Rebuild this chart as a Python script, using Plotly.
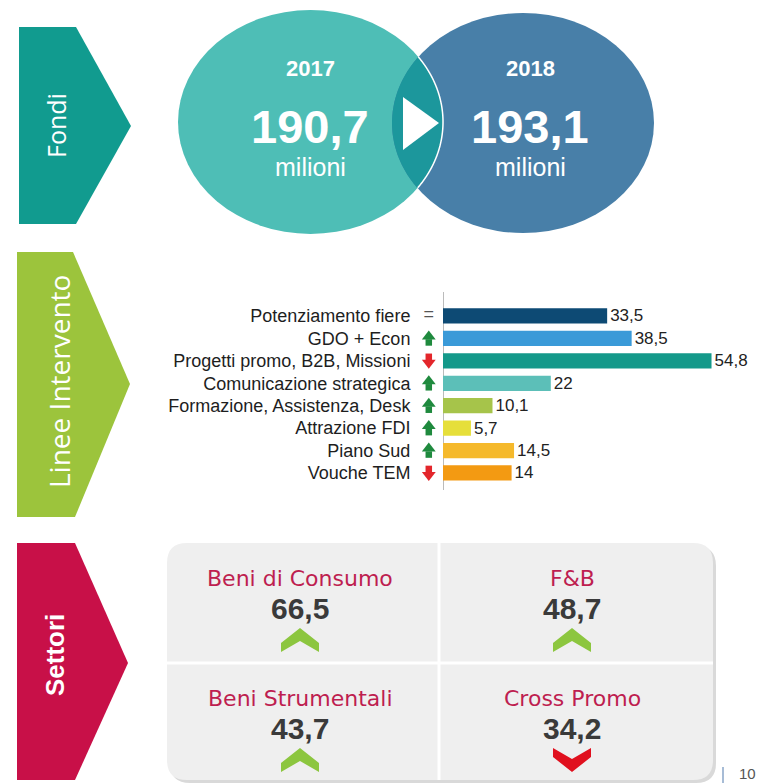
import numpy as np
import plotly.graph_objects as go

W, H = 762, 783

# ---------------- data ----------------
years = ["2017", "2018"]
funds = [190.7, 193.1]
fund_unit = "milioni"

section_titles = ["Fondi", "Linee Intervento", "Settori"]

lines = ["Potenziamento fiere", "GDO + Econ", "Progetti promo, B2B, Missioni",
         "Comunicazione strategica", "Formazione, Assistenza, Desk",
         "Attrazione FDI", "Piano Sud", "Vouche TEM"]
line_values = [33.5, 38.5, 54.8, 22, 10.1, 5.7, 14.5, 14]
line_trend = ["eq", "up", "down", "up", "up", "up", "up", "down"]
bar_colors = ["#0d4a74", "#3a9ad8", "#14998a", "#5cbfb8",
              "#a6c44a", "#e6df3a", "#f5b92c", "#f39a12"]

sectors = ["Beni di Consumo", "F&B", "Beni Strumentali", "Cross Promo"]
sector_values = [66.5, 48.7, 43.7, 34.2]
sector_trend = ["up", "up", "up", "down"]


def it(v):
    return f"{v:g}".replace(".", ",")


def px(x):
    return x / W


def py(y):
    return 1 - y / H


def path(points, close=True):
    s = "M " + " L ".join(f"{px(x):.5f},{py(y):.5f}" for x, y in points)
    return s + (" Z" if close else "")


def note(x, y, text, size, color, family="Arial", angle=0, xanchor="center"):
    return dict(x=px(x), y=py(y), xref="paper", yref="paper", text=text, textangle=angle,
                showarrow=False, xanchor=xanchor, yanchor="middle",
                font=dict(family=family, size=size, color=color))


shapes = []
annotations = []

# ---------------- section banners ----------------
banners = [
    ([(19, 27), (76, 27), (131, 126), (76, 224), (19, 224)], "#119b8f", (56, 126), 25, "Open Sans", False),
    ([(17, 252), (73, 252), (130, 384), (75, 517), (17, 517)], "#9cc43c", (59, 382), 28, "Open Sans", False),
    ([(17, 543), (75, 543), (128, 663), (75, 780), (17, 780)], "#c81048", (55, 655), 26, "Arial", True),
]
for (pts, col, (tx, ty), fs, fam, bold), title in zip(banners, section_titles):
    shapes.append(dict(type="path", xref="paper", yref="paper", path=path(pts),
                       fillcolor=col, line=dict(width=0), layer="below"))
    annotations.append(note(tx, ty, f"<b>{title}</b>" if bold else title, fs, "white", fam, -90))

# ---------------- circles (Fondi) ----------------
A = dict(x0=178, x1=443, y0=10, y1=234, col="#4ebeb6")
B = dict(x0=392, x1=654, y0=13, y1=233, col="#487fa8")
for c in (A, B):
    shapes.append(dict(type="circle", xref="paper", yref="paper",
                       x0=px(c["x0"]), x1=px(c["x1"]), y0=py(c["y1"]), y1=py(c["y0"]),
                       fillcolor=c["col"], line=dict(width=0), layer="below"))


def ell(c):
    return ((c["x0"] + c["x1"]) / 2, (c["y0"] + c["y1"]) / 2,
            (c["x1"] - c["x0"]) / 2, (c["y1"] - c["y0"]) / 2)


cxA, cyA, rxA, ryA = ell(A)
cxB, cyB, rxB, ryB = ell(B)
t = np.linspace(-np.pi, np.pi, 721)
xa, ya = cxA + rxA * np.cos(t), cyA + ryA * np.sin(t)
inB = ((xa - cxB) / rxB) ** 2 + ((ya - cyB) / ryB) ** 2 <= 1
t2 = np.linspace(0, 2 * np.pi, 721)
xb, yb = cxB + rxB * np.cos(t2), cyB + ryB * np.sin(t2)
inA = ((xb - cxA) / rxA) ** 2 + ((yb - cyA) / ryA) ** 2 <= 1
lens = list(zip(xa[inB], ya[inB])) + list(zip(xb[inA], yb[inA]))
shapes.append(dict(type="path", xref="paper", yref="paper", path=path(lens),
                   fillcolor="#1c979c", line=dict(width=0), layer="below"))
shapes.append(dict(type="path", xref="paper", yref="paper",
                   path=path(list(zip(xa[inB], ya[inB])), close=False),
                   line=dict(width=1.5, color="white"), layer="below"))
shapes.append(dict(type="path", xref="paper", yref="paper",
                   path=path([(403, 97), (439, 123), (403, 150)]),
                   fillcolor="white", line=dict(width=0), layer="below"))

for yr, val, cx in zip(years, funds, [310, 530]):
    annotations.append(note(cx, 68, f"<b>{yr}</b>", 22, "white"))
    annotations.append(note(cx, 127, f"<b>{it(val)}</b>", 47, "white"))
    annotations.append(note(cx, 167, fund_unit, 25, "white"))

# ---------------- bar chart (Linee Intervento) ----------------
PXU = 4.9          # pixels per unit
XMIN = -4          # room on the left for the trend arrows
AX0 = 443          # pixel position of the value 0
idx = list(range(len(lines)))
fig = go.Figure()
fig.add_trace(go.Bar(
    x=line_values, y=idx, orientation="h", width=0.68,
    marker=dict(color=bar_colors, line=dict(width=0)),
    texttemplate="%{x}", textposition="outside", cliponaxis=False, constraintext="none",
    textfont=dict(family="Arial", size=17, color="#222222"),
    hoverinfo="skip",
))

ARROW_X = -2.9
up_i = [i for i in idx if line_trend[i] == "up"]
dn_i = [i for i in idx if line_trend[i] == "down"]
eq_i = [i for i in idx if line_trend[i] == "eq"]
fig.add_trace(go.Scatter(x=[ARROW_X] * len(up_i), y=[i - 0.09 for i in up_i], mode="markers",
                         marker=dict(symbol="triangle-up", size=12, color="#1f8a3e"),
                         cliponaxis=False, hoverinfo="skip"))
fig.add_trace(go.Scatter(x=[ARROW_X] * len(up_i), y=[i + 0.18 for i in up_i], mode="markers",
                         marker=dict(symbol="square", size=6.5, color="#1f8a3e"),
                         cliponaxis=False, hoverinfo="skip"))
fig.add_trace(go.Scatter(x=[ARROW_X] * len(dn_i), y=[i + 0.09 for i in dn_i], mode="markers",
                         marker=dict(symbol="triangle-down", size=12, color="#e3262b"),
                         cliponaxis=False, hoverinfo="skip"))
fig.add_trace(go.Scatter(x=[ARROW_X] * len(dn_i), y=[i - 0.18 for i in dn_i], mode="markers",
                         marker=dict(symbol="square", size=6.5, color="#e3262b"),
                         cliponaxis=False, hoverinfo="skip"))
fig.add_trace(go.Scatter(x=[ARROW_X] * len(eq_i), y=eq_i, mode="text", text=["="] * len(eq_i),
                         textfont=dict(family="Arial", size=18, color="#555555"),
                         cliponaxis=False, hoverinfo="skip"))


# ---------------- Settori box ----------------
def rounded(x0, y0, x1, y1, r):
    return ("M {a},{b} L {c},{b} Q {d},{b} {d},{e} L {d},{f} Q {d},{g} {c},{g} "
            "L {a},{g} Q {h},{g} {h},{f} L {h},{e} Q {h},{b} {a},{b} Z").format(
        a=px(x0 + r), b=py(y0), c=px(x1 - r), d=px(x1), e=py(y0 + r),
        f=py(y1 - r), g=py(y1), h=px(x0))


shapes.append(dict(type="path", xref="paper", yref="paper", path=rounded(170, 546, 716, 783, 20),
                   fillcolor="#d9d9d9", line=dict(width=0), layer="below"))
shapes.append(dict(type="path", xref="paper", yref="paper", path=rounded(167, 543, 713, 780, 20),
                   fillcolor="#efefef", line=dict(width=0), layer="below"))
shapes.append(dict(type="line", xref="paper", yref="paper", x0=px(439), x1=px(439), y0=py(543), y1=py(780),
                   line=dict(color="white", width=3), layer="below"))
shapes.append(dict(type="line", xref="paper", yref="paper", x0=px(167), x1=px(713), y0=py(663), y1=py(663),
                   line=dict(color="white", width=3), layer="below"))

cell_x = [300, 572, 300, 572]
cell_y = [543, 543, 663, 663]
for name, val, tr, cx, cy in zip(sectors, sector_values, sector_trend, cell_x, cell_y):
    annotations.append(note(cx, cy + 35, name, 22, "#be1e50", "DejaVu Sans"))
    annotations.append(note(cx, cy + 65, f"<b>{it(val)}</b>", 30, "#3a3a3a"))
    c = cy + 97
    if tr == "up":
        pts = [(cx - 19, c + 12), (cx - 19, c + 3), (cx, c - 12), (cx + 19, c + 3),
               (cx + 19, c + 12), (cx, c + 1)]
        col = "#8cc63f"
    else:
        pts = [(cx - 19, c - 12), (cx - 19, c - 3), (cx, c + 12), (cx + 19, c - 3),
               (cx + 19, c - 12), (cx, c - 1)]
        col = "#e0101e"
    shapes.append(dict(type="path", xref="paper", yref="paper", path=path(pts),
                       fillcolor=col, line=dict(width=0)))

# page number
shapes.append(dict(type="line", xref="paper", yref="paper", x0=px(723), x1=px(723), y0=py(767), y1=py(783),
                   line=dict(color="#8aa6c8", width=1.5)))
annotations.append(note(737, 773, "10", 15, "#555555", xanchor="left"))

fig.update_layout(
    width=W, height=H, margin=dict(l=0, r=0, t=0, b=0),
    paper_bgcolor="white", plot_bgcolor="rgba(0,0,0,0)",
    showlegend=False, separators=",.",
    shapes=shapes, annotations=annotations,
    xaxis=dict(domain=[px(AX0 + XMIN * PXU), px(AX0 + 60 * PXU)], range=[XMIN, 60],
               showticklabels=False, showgrid=False, ticks="", showline=False,
               zeroline=True, zerolinecolor="#bbbbbb", zerolinewidth=1, fixedrange=True),
    yaxis=dict(domain=[py(490), py(292)], range=[7.76, -1.07], tickvals=idx, ticktext=lines,
               showline=False, showgrid=False, zeroline=False,
               ticks="", ticklabelstandoff=12, fixedrange=True,
               tickfont=dict(family="Arial", size=18, color="#1e1e1e")),
)

fig.write_html("out.html", config={"displayModeBar": False},
               post_script="document.body.style.margin='0';")
